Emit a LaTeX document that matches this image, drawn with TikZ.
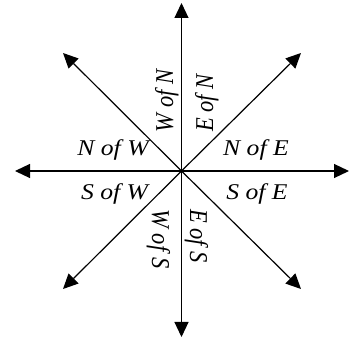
\documentclass[tikz,border=0pt]{standalone}
\usepackage{fontspec}
\setmainfont{Liberation Serif}
\usetikzlibrary{arrows.meta}
\newcommand{\hlab}[1]{\scalebox{1.14}[1]{#1}}
\newcommand{\vlab}[1]{\scalebox{1}[1.14]{#1}}
\begin{document}
\begin{tikzpicture}[x=1pt,y=1pt,
  ray/.style={line width=1.2pt,-{Triangle[length=15pt,width=14pt]}},
  lab/.style={inner sep=0pt,font=\fontsize{22.5}{22.5}\selectfont\itshape,anchor=base}]
\useasboundingbox (0,0) rectangle (357,343);
\coordinate (c) at (181.5,172);
\coordinate (n) at (181.5,340);
\coordinate (s) at (181.5,6);
\coordinate (w) at (15,172);
\coordinate (e) at (349,172);
\coordinate (nw) at (63,290);
\coordinate (ne) at (301,290);
\coordinate (sw) at (63,54);
\coordinate (se) at (301,54);
\foreach \t in {n,s,w,e,nw,ne,sw,se} \draw[ray] (c) -- (\t);
\node[lab] (nofw) at (113,187) {\hlab{N of W}};
\node[lab] (sofw) at (114.5,143) {\hlab{S of W}};
\node[lab] (nofe) at (256,187) {\hlab{N of E}};
\node[lab] (sofe) at (257,143) {\hlab{S of E}};
\node[lab,rotate=90] (wofn) at (173,242) {\vlab{W of N}};
\node[lab,rotate=90] (eofn) at (213,240) {\vlab{E of N}};
\node[lab,rotate=-90] (wofs) at (152,104) {\vlab{W of S}};
\node[lab,rotate=-90] (eofs) at (190,107) {\vlab{E of S}};
\end{tikzpicture}
\end{document}
